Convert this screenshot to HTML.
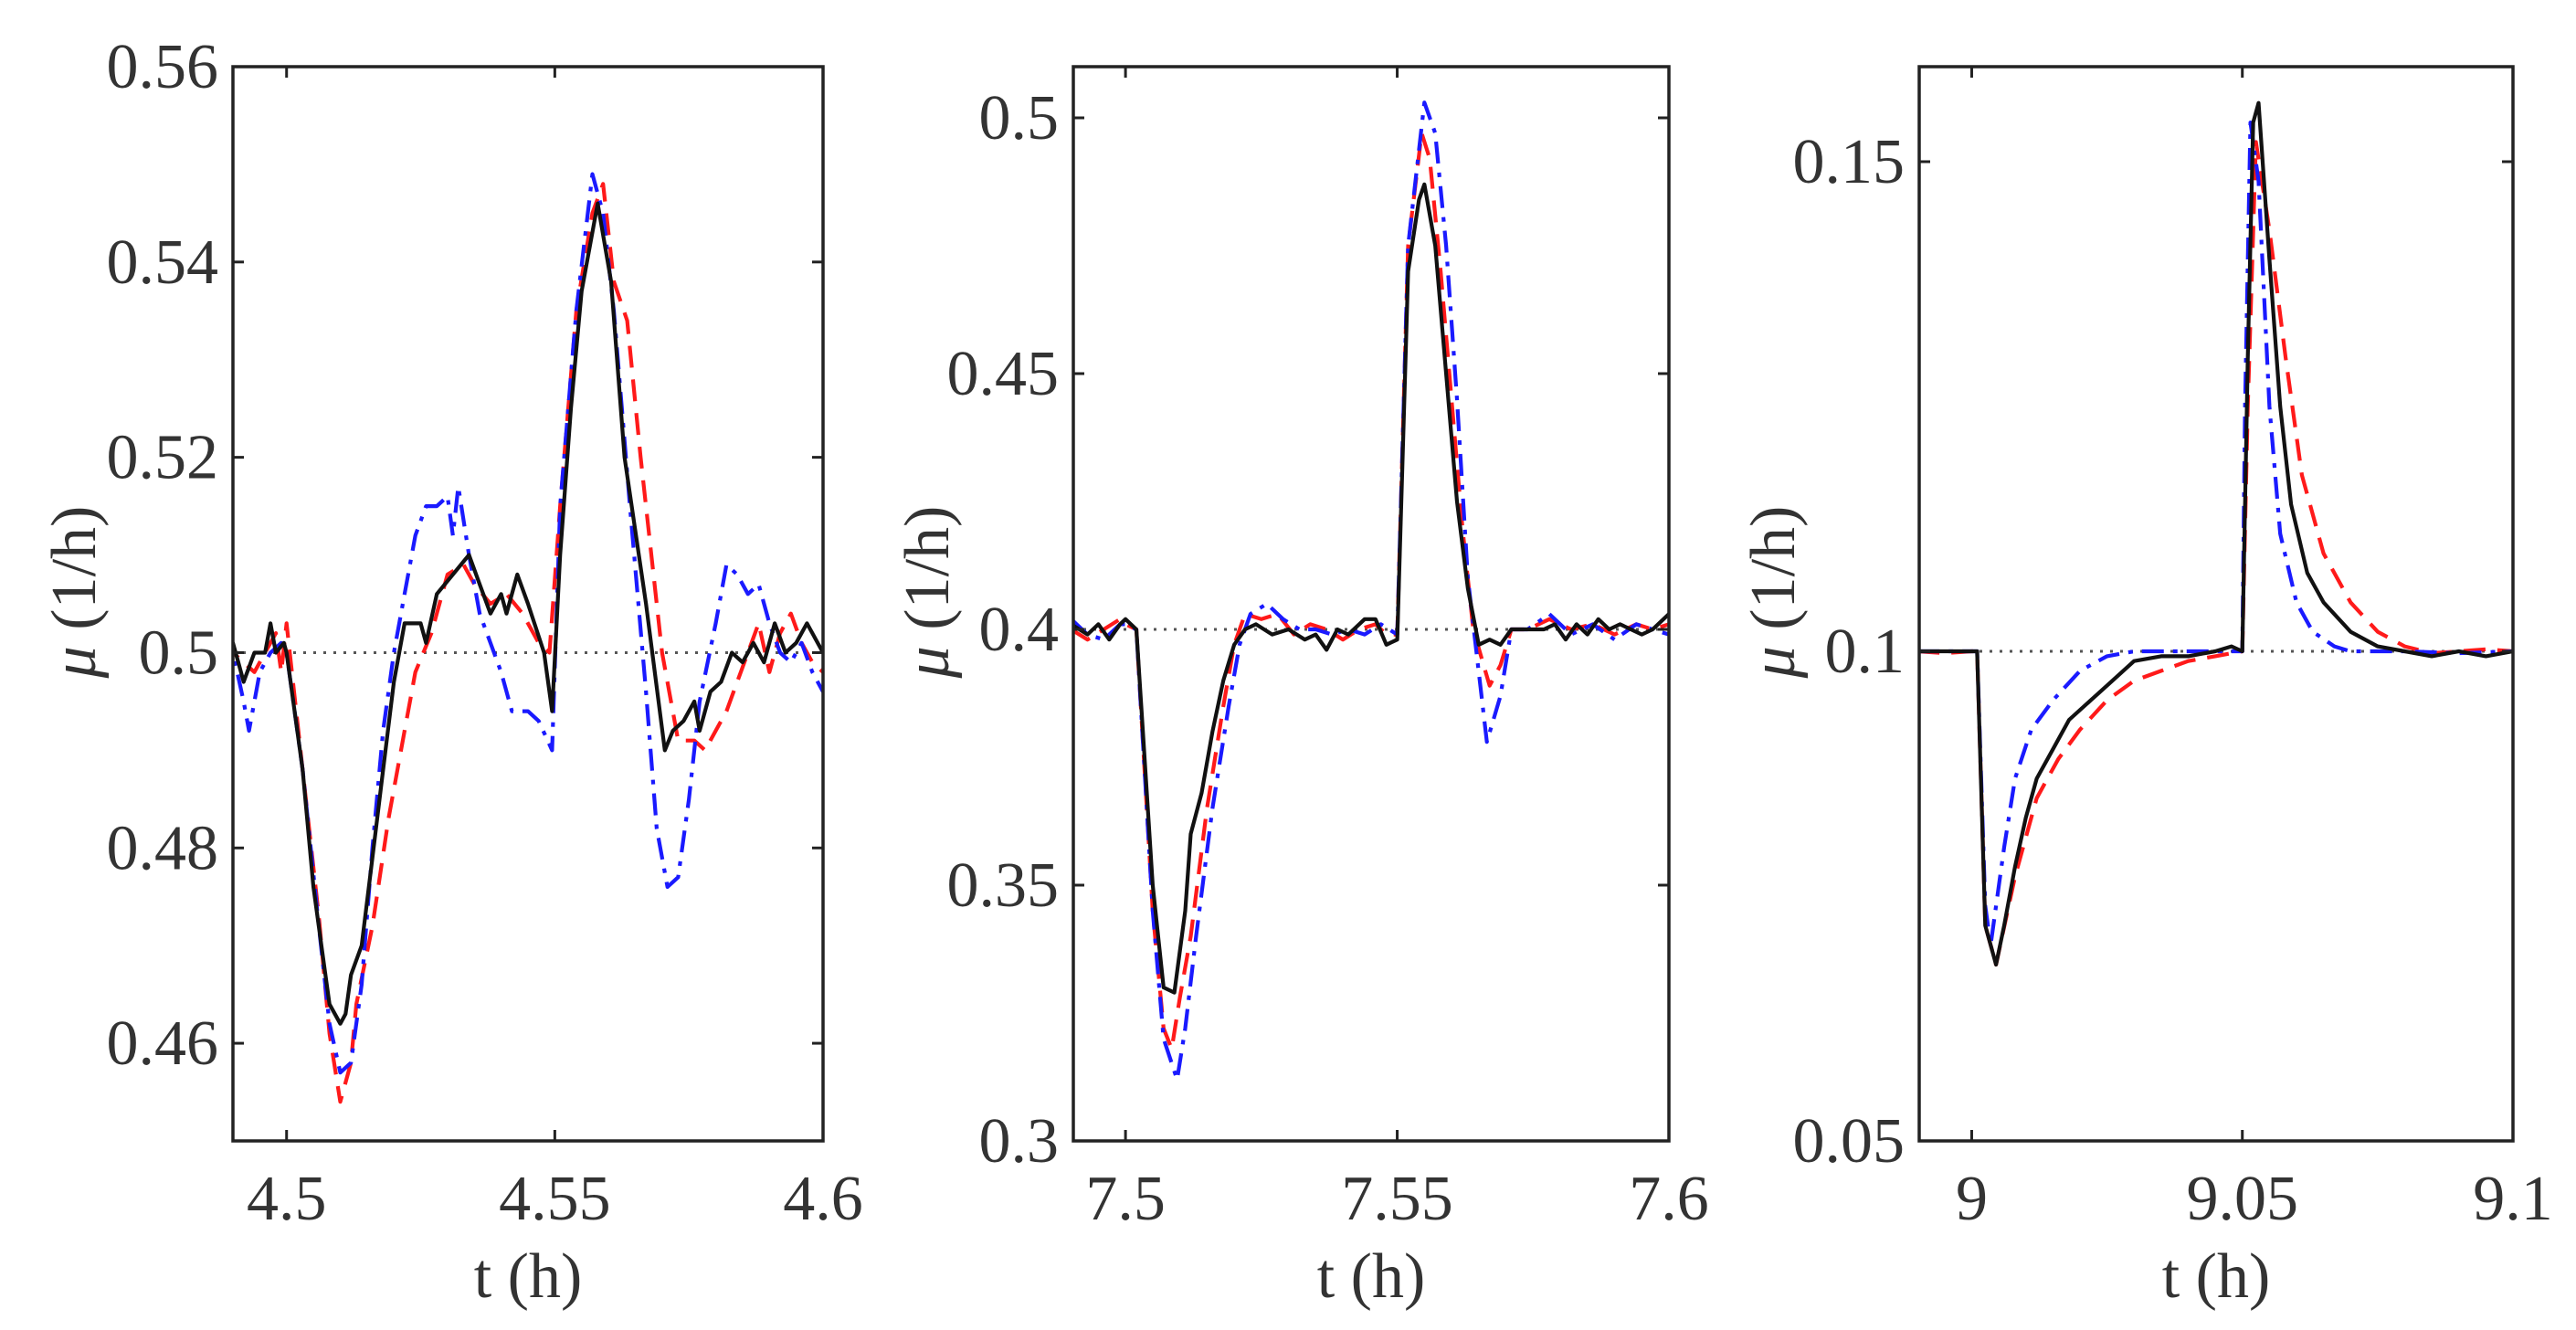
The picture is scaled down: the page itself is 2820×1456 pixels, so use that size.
<!DOCTYPE html>
<html><head><meta charset="utf-8"><style>
html,body{margin:0;padding:0;background:#fff;}
svg{display:block;font-family:"Liberation Serif",serif;}
</style></head><body>
<svg id="fig" width="2820" height="1456" viewBox="0 0 2820 1456" xmlns="http://www.w3.org/2000/svg"></svg>
<script>
// ---------- Panel 1 data ----------
const p1BlackT=[4.488,4.489,4.490,4.491,4.492,4.494,4.496,4.497,4.498,4.4995,4.500,4.503,4.505,4.507,4.508,4.510,4.511,4.512,4.514,4.516,4.518,4.520,4.522,4.525,4.526,4.528,4.531,4.534,4.536,4.538,4.540,4.541,4.543,4.545,4.548,4.5495,4.551,4.553,4.555,4.558,4.5605,4.563,4.567,4.5705,4.572,4.574,4.576,4.577,4.579,4.581,4.583,4.585,4.587,4.589,4.591,4.593,4.595,4.597,4.6];
const p1BlackV=[0.503,0.495,0.501,0.499,0.497,0.500,0.500,0.503,0.500,0.501,0.500,0.488,0.476,0.468,0.464,0.462,0.463,0.467,0.470,0.479,0.488,0.497,0.503,0.503,0.501,0.506,0.508,0.510,0.507,0.504,0.506,0.504,0.508,0.505,0.500,0.494,0.510,0.525,0.537,0.546,0.538,0.520,0.505,0.490,0.492,0.493,0.495,0.492,0.496,0.497,0.500,0.499,0.501,0.499,0.503,0.500,0.501,0.503,0.500];
const p1RedT=[4.488,4.490,4.492,4.494,4.496,4.498,4.499,4.500,4.503,4.506,4.508,4.510,4.512,4.513,4.516,4.519,4.522,4.524,4.527,4.530,4.533,4.535,4.538,4.541,4.544,4.547,4.549,4.551,4.554,4.557,4.559,4.561,4.5635,4.566,4.570,4.573,4.576,4.578,4.580,4.582,4.584,4.586,4.588,4.590,4.592,4.594,4.596,4.598,4.6];
const p1RedV=[0.501,0.500,0.499,0.498,0.500,0.502,0.498,0.503,0.488,0.473,0.461,0.454,0.458,0.464,0.472,0.483,0.492,0.498,0.502,0.508,0.509,0.507,0.505,0.506,0.504,0.501,0.500,0.515,0.535,0.545,0.548,0.538,0.534,0.520,0.500,0.491,0.491,0.490,0.492,0.494,0.497,0.500,0.503,0.498,0.502,0.504,0.501,0.499,0.498];
const p1BlueT=[4.488,4.490,4.492,4.493,4.495,4.497,4.499,4.500,4.503,4.506,4.508,4.510,4.512,4.514,4.516,4.518,4.520,4.522,4.524,4.526,4.528,4.530,4.531,4.532,4.534,4.536,4.538,4.540,4.542,4.545,4.547,4.5495,4.551,4.554,4.557,4.559,4.561,4.564,4.567,4.569,4.571,4.573,4.575,4.577,4.580,4.582,4.584,4.586,4.588,4.590,4.592,4.594,4.596,4.598,4.6];
const p1BlueV=[0.502,0.500,0.495,0.492,0.498,0.500,0.501,0.500,0.488,0.472,0.462,0.457,0.458,0.466,0.480,0.492,0.500,0.506,0.512,0.515,0.515,0.516,0.512,0.517,0.510,0.504,0.501,0.498,0.494,0.494,0.493,0.490,0.515,0.535,0.549,0.545,0.535,0.515,0.496,0.482,0.476,0.477,0.485,0.495,0.503,0.509,0.508,0.506,0.507,0.503,0.500,0.499,0.501,0.498,0.496];
const p1XTicks=[4.5,4.55,4.6];
const p1XTickLabels=["4.5","4.55","4.6"];
const p1YTicks=[0.46,0.48,0.5,0.52,0.54,0.56];
const p1YTickLabels=["0.46","0.48","0.5","0.52","0.54","0.56"];
// ---------- Panel 2 data ----------
const p2BlackT=[7.490,7.493,7.495,7.497,7.499,7.500,7.502,7.505,7.507,7.509,7.511,7.512,7.514,7.516,7.518,7.520,7.522,7.524,7.527,7.530,7.533,7.535,7.537,7.539,7.541,7.544,7.546,7.548,7.550,7.552,7.554,7.555,7.557,7.559,7.561,7.563,7.565,7.567,7.569,7.571,7.574,7.577,7.579,7.581,7.583,7.585,7.587,7.589,7.591,7.593,7.595,7.597,7.6];
const p2BlackV=[0.401,0.399,0.401,0.398,0.401,0.402,0.400,0.350,0.330,0.329,0.345,0.360,0.368,0.380,0.390,0.397,0.400,0.401,0.399,0.400,0.398,0.399,0.396,0.400,0.399,0.402,0.402,0.397,0.398,0.470,0.484,0.487,0.475,0.450,0.425,0.408,0.397,0.398,0.397,0.400,0.400,0.400,0.401,0.398,0.401,0.399,0.402,0.400,0.401,0.400,0.399,0.400,0.403];
const p2RedT=[7.490,7.493,7.496,7.499,7.500,7.502,7.505,7.507,7.5085,7.510,7.512,7.515,7.518,7.520,7.522,7.525,7.528,7.531,7.534,7.537,7.540,7.543,7.546,7.548,7.550,7.552,7.5545,7.556,7.558,7.560,7.562,7.564,7.567,7.569,7.571,7.574,7.578,7.582,7.586,7.590,7.594,7.597,7.6];
const p2RedV=[0.400,0.398,0.400,0.402,0.401,0.400,0.345,0.322,0.318,0.328,0.340,0.365,0.385,0.397,0.403,0.402,0.403,0.399,0.401,0.400,0.398,0.400,0.401,0.399,0.399,0.475,0.497,0.492,0.470,0.445,0.420,0.400,0.389,0.393,0.400,0.400,0.402,0.400,0.401,0.399,0.401,0.400,0.401];
const p2BlueT=[7.490,7.493,7.496,7.499,7.500,7.502,7.505,7.507,7.5095,7.511,7.513,7.516,7.519,7.521,7.523,7.526,7.529,7.532,7.535,7.538,7.541,7.544,7.547,7.550,7.552,7.555,7.557,7.559,7.561,7.563,7.5665,7.569,7.571,7.574,7.578,7.582,7.586,7.590,7.594,7.597,7.6];
const p2BlueV=[0.402,0.399,0.398,0.401,0.401,0.400,0.345,0.320,0.312,0.322,0.340,0.365,0.385,0.397,0.403,0.405,0.402,0.400,0.400,0.399,0.400,0.399,0.401,0.399,0.475,0.503,0.497,0.475,0.445,0.410,0.378,0.387,0.400,0.400,0.403,0.399,0.401,0.398,0.401,0.400,0.399];
const p2XTicks=[7.5,7.55,7.6];
const p2XTickLabels=["7.5","7.55","7.6"];
const p2YTicks=[0.3,0.35,0.4,0.45,0.5];
const p2YTickLabels=["0.3","0.35","0.4","0.45","0.5"];
// ---------- Panel 3 data ----------
const p3BlackT=[8.99,8.995,9.0,9.001,9.0025,9.0045,9.006,9.008,9.010,9.012,9.015,9.018,9.022,9.026,9.030,9.035,9.040,9.045,9.048,9.050,9.051,9.052,9.053,9.055,9.057,9.059,9.062,9.065,9.070,9.075,9.080,9.085,9.090,9.095,9.1];
const p3BlackV=[0.1,0.1,0.1,0.1,0.072,0.068,0.072,0.078,0.083,0.087,0.090,0.093,0.095,0.097,0.099,0.0995,0.0995,0.1,0.1005,0.100,0.130,0.154,0.156,0.140,0.125,0.115,0.108,0.105,0.102,0.1005,0.100,0.0995,0.1,0.0995,0.1];
const p3RedT=[8.99,8.995,9.0,9.001,9.0025,9.0045,9.008,9.012,9.016,9.020,9.025,9.030,9.035,9.040,9.045,9.050,9.051,9.0525,9.055,9.058,9.061,9.065,9.070,9.075,9.080,9.085,9.090,9.095,9.1];
const p3RedV=[0.1,0.0998,0.1,0.1,0.072,0.068,0.077,0.085,0.089,0.092,0.095,0.097,0.098,0.099,0.0995,0.1,0.125,0.152,0.143,0.130,0.118,0.110,0.105,0.102,0.1005,0.0998,0.1,0.1002,0.1];
const p3BlueT=[8.99,8.995,9.0,9.001,9.0025,9.0035,9.006,9.008,9.011,9.015,9.020,9.025,9.030,9.040,9.050,9.0505,9.0515,9.053,9.055,9.057,9.060,9.063,9.067,9.070,9.080,9.090,9.1];
const p3BlueV=[0.1,0.1,0.1,0.1,0.074,0.070,0.080,0.087,0.092,0.095,0.098,0.0995,0.1,0.1,0.1,0.125,0.154,0.148,0.125,0.112,0.105,0.102,0.1005,0.1,0.1,0.0998,0.1];
const p3XTicks=[9,9.05,9.1];
const p3XTickLabels=["9","9.05","9.1"];
const p3YTicks=[0.05,0.1,0.15];
const p3YTickLabels=["0.05","0.1","0.15"];

const NS="http://www.w3.org/2000/svg";
const svg=document.getElementById('fig');
function mk(tag,attrs,parent){const e=document.createElementNS(NS,tag);for(const k in attrs)e.setAttribute(k,attrs[k]);(parent||svg).appendChild(e);return e;}

const panels=[
 {id:'left',L:255,R:901,T:73,B:1249,x0:4.49,x1:4.6,y0:0.45,y1:0.56,base:0.5,ylabX:82,
  xt:p1XTicks,xl:p1XTickLabels,yt:p1YTicks,yl:p1YTickLabels,
  s:[[p1RedT,p1RedV,'red'],[p1BlueT,p1BlueV,'blue'],[p1BlackT,p1BlackV,'black']]},
 {id:'middle',L:1175,R:1827,T:73,B:1249,x0:7.4904,x1:7.6,y0:0.3,y1:0.51,base:0.4,ylabX:1016,
  xt:p2XTicks,xl:p2XTickLabels,yt:p2YTicks,yl:p2YTickLabels,
  s:[[p2RedT,p2RedV,'red'],[p2BlueT,p2BlueV,'blue'],[p2BlackT,p2BlackV,'black']]},
 {id:'right',L:2101,R:2751,T:73,B:1249,x0:8.9903,x1:9.1,y0:0.05,y1:0.1597,base:0.1,ylabX:1942,
  xt:p3XTicks,xl:p3XTickLabels,yt:p3YTicks,yl:p3YTickLabels,
  s:[[p3RedT,p3RedV,'red'],[p3BlueT,p3BlueV,'blue'],[p3BlackT,p3BlackV,'black']]}
];
const styles={
 red:{stroke:'#ff1a1a',dash:'24,13',name:'dashed-red-series'},
 blue:{stroke:'#1a1aff',dash:'24,10,5,10',name:'dashdot-blue-series'},
 black:{stroke:'#111',dash:'',name:'solid-black-series'}
};
panels.forEach(p=>{
  const g=mk('g',{});
  
  
  const sx=v=>p.L+(v-p.x0)/(p.x1-p.x0)*(p.R-p.L);
  const sy=v=>p.B-(v-p.y0)/(p.y1-p.y0)*(p.B-p.T);
  const cid='clip-'+p.id;
  const cp=mk('clipPath',{id:cid},g);mk('rect',{x:p.L,y:p.T,width:p.R-p.L,height:p.B-p.T},cp);
  const bl=mk('line',{x1:p.L,x2:p.R,y1:sy(p.base),y2:sy(p.base),stroke:'#555','stroke-width':3,'stroke-dasharray':'3,8'},g);
  
  
  p.s.forEach(([T,V,c])=>{
    const st=styles[c];
    const d=T.map((t,i)=>(i?'L':'M')+sx(t).toFixed(1)+' '+sy(V[i]).toFixed(1)).join(' ');
    const path=mk('path',{d:d,fill:'none',stroke:st.stroke,'stroke-width':4.2,'stroke-linejoin':'round','clip-path':'url(#'+cid+')'},g);
    if(st.dash)path.setAttribute('stroke-dasharray',st.dash);
    
    
  });
  const fr=mk('rect',{x:p.L,y:p.T,width:p.R-p.L,height:p.B-p.T,fill:'none',stroke:'#222','stroke-width':3.5},g);
  
  
  p.xt.forEach((v,i)=>{
    const x=sx(v);
    mk('line',{x1:x,x2:x,y1:p.B,y2:p.B-12,stroke:'#222','stroke-width':3},g);
    mk('line',{x1:x,x2:x,y1:p.T,y2:p.T+12,stroke:'#222','stroke-width':3},g);
    const t=mk('text',{x:x,y:p.B+86,'text-anchor':'middle','font-size':70,fill:'#333'},g);
    t.textContent=p.xl[i];
    
    
  });
  p.yt.forEach((v,i)=>{
    const y=sy(v);
    mk('line',{x1:p.L,x2:p.L+12,y1:y,y2:y,stroke:'#222','stroke-width':3},g);
    mk('line',{x1:p.R,x2:p.R-12,y1:y,y2:y,stroke:'#222','stroke-width':3},g);
    const t=mk('text',{x:p.L-16,y:y+23,'text-anchor':'end','font-size':70,fill:'#333'},g);
    t.textContent=p.yl[i];
    
    
  });
  const xl=mk('text',{x:(p.L+p.R)/2,y:1420,'text-anchor':'middle','font-size':70,fill:'#333'},g);
  xl.textContent='t (h)';
  
  
  const yl=mk('text',{x:0,y:0,'text-anchor':'middle','font-size':70,fill:'#333',transform:'translate('+(p.ylabX+22)+',648) rotate(-90)'},g);
  yl.innerHTML='<tspan font-style="italic">μ</tspan> (1/h)';
  
  
});
</script>
</body></html>
